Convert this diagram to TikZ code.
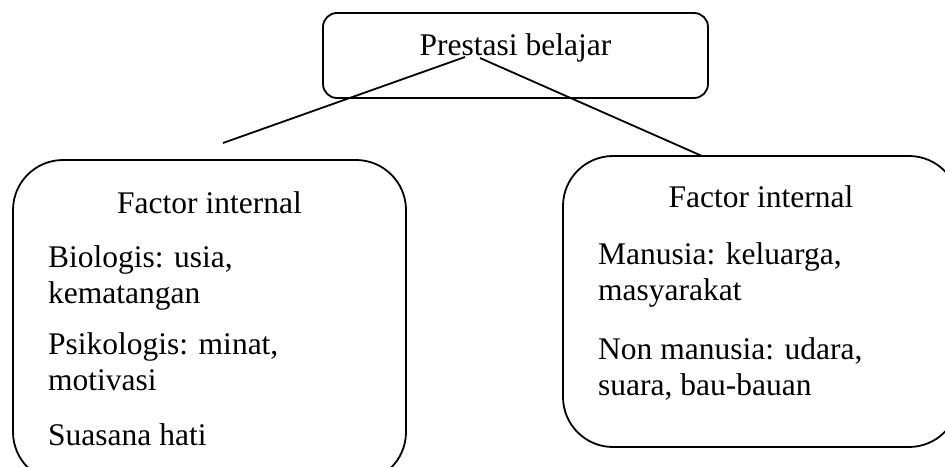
\documentclass[tikz,border=0pt]{standalone}
\usepackage{fontspec}
\setmainfont{Liberation Serif}
\usetikzlibrary{positioning}
\tikzstyle{topbox} = [rectangle, rounded corners=14pt, draw, line width=1.8pt, minimum width=385pt, minimum height=85pt]
\tikzstyle{factorbox} = [rectangle, rounded corners=50pt, draw, line width=1.8pt]
\tikzstyle{boxtext} = [inner sep=0pt, font=\fontsize{31.5}{36}\selectfont]
\tikzstyle{item} = [boxtext, anchor=base west, align=left]
\tikzstyle{link} = [line width=1.8pt]

\begin{document}
\begin{tikzpicture}[x=1pt, y=-1pt]
\useasboundingbox (0,0) rectangle (945,466);
\node (prestasi) [topbox] at (515.5,55.5) {};
\node (prestasitext) [boxtext, anchor=base] at (515.5,55) {Prestasi belajar};
\node (internal) [factorbox, minimum width=393pt, minimum height=322pt] at (209.5,321) {};
\node (external) [factorbox, minimum width=396pt, minimum height=291pt] at (761,301.5) {};
\node (internaltitle) [boxtext, anchor=base] at (209.5,213) {Factor internal};
% base of a two-line item is its last line
\node (biologis) [item] at (48,303) {Biologis: usia,\\kematangan};
\node (psikologis) [item] at (48,390) {Psikologis: minat,\\motivasi};
\node (suasana) [item] at (48,445) {Suasana hati};
\node (externaltitle) [boxtext, anchor=base] at (761,207) {Factor internal};
\node (manusia) [item] at (598,300) {Manusia: keluarga,\\masyarakat};
\node (nonmanusia) [item] at (598,395) {Non manusia: udara,\\suara, bau-bauan};
% connectors
\coordinate (leftstart) at (465,57);
\coordinate (leftend) at (223,143);
\coordinate (rightstart) at (480,58);
\coordinate (rightend) at (702,156);
\draw[link] (leftstart) -- (leftend);
\draw[link] (rightstart) -- (rightend);
\end{tikzpicture}
\end{document}
